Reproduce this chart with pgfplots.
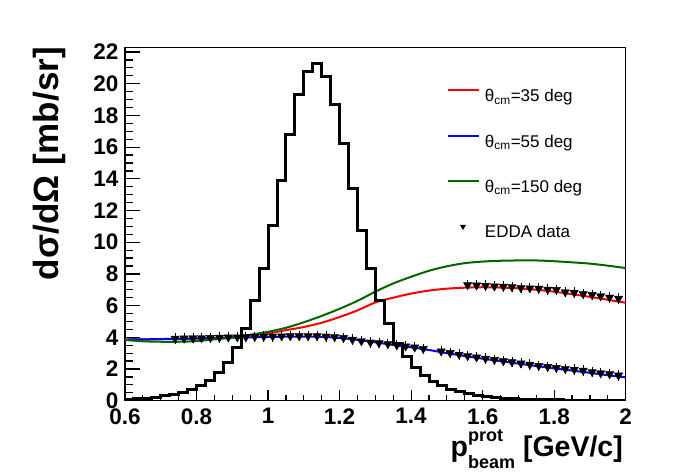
\documentclass[border=0pt]{standalone}
\usepackage{fontspec}
\setmainfont{Liberation Sans}
\usepackage{pgfplots}
\usepackage{pgfplotstable}
\pgfplotsset{compat=1.18}
\definecolor{rootgreen}{rgb}{0,0.4,0}

% histogram: bin lower edge, content (last row closes the last bin)
\pgfplotstableread{
x y
0.600 0.10
0.625 0.13
0.650 0.16
0.675 0.22
0.700 0.30
0.725 0.39
0.750 0.50
0.775 0.71
0.800 0.97
0.825 1.30
0.850 1.77
0.875 2.40
0.900 3.37
0.925 4.57
0.950 6.30
0.975 8.33
1.000 11.03
1.025 13.92
1.050 16.80
1.075 19.30
1.100 20.80
1.125 21.25
1.150 20.46
1.175 18.70
1.200 16.20
1.225 13.40
1.250 10.76
1.275 8.33
1.300 6.33
1.325 4.85
1.350 3.62
1.375 2.80
1.400 2.10
1.425 1.56
1.450 1.24
1.475 0.97
1.500 0.71
1.525 0.56
1.550 0.45
1.575 0.34
1.600 0.28
1.625 0.21
1.650 0.16
1.675 0.13
1.700 0.10
1.725 0.08
1.750 0.07
1.775 0.06
1.800 0.05
1.825 0.04
1.850 0.04
1.875 0.03
1.900 0.03
1.925 0.02
1.950 0.02
1.975 0.02
2.000 0.02
}\histtab

\pgfplotstableread{
x red blue green
0.60 3.86 3.86 3.83
0.65 3.87 3.87 3.75
0.70 3.88 3.89 3.72
0.75 3.90 3.91 3.72
0.80 3.92 3.93 3.76
0.85 3.95 3.95 3.87
0.90 4.01 3.98 3.98
0.95 4.12 4.00 4.16
1.00 4.25 4.02 4.35
1.05 4.45 4.04 4.60
1.10 4.65 4.05 4.95
1.15 4.92 4.03 5.35
1.20 5.28 3.96 5.80
1.25 5.70 3.84 6.30
1.30 6.20 3.68 6.88
1.35 6.50 3.52 7.40
1.40 6.76 3.37 7.82
1.45 6.95 3.20 8.20
1.50 7.07 3.00 8.48
1.55 7.13 2.82 8.68
1.60 7.16 2.65 8.78
1.65 7.14 2.50 8.83
1.70 7.09 2.34 8.85
1.75 7.00 2.19 8.85
1.80 6.88 2.04 8.80
1.85 6.72 1.90 8.73
1.90 6.55 1.76 8.65
1.95 6.37 1.61 8.52
2.00 6.18 1.47 8.37
}\curves

\pgfplotstableread{
x y
0.740 3.93
0.765 3.94
0.790 3.95
0.814 3.96
0.839 3.97
0.864 3.99
0.889 4.00
0.914 4.01
0.938 4.02
0.963 4.04
0.988 4.05
1.013 4.06
1.038 4.07
1.062 4.08
1.087 4.08
1.112 4.08
1.137 4.08
1.162 4.06
1.186 4.02
1.211 3.97
1.236 3.86
1.261 3.76
1.286 3.68
1.310 3.64
1.335 3.58
1.360 3.51
1.385 3.44
1.410 3.37
1.434 3.28
1.484 3.12
1.509 3.02
1.534 2.92
1.558 2.82
1.583 2.74
1.608 2.66
1.633 2.58
1.658 2.50
1.682 2.44
1.707 2.36
1.732 2.28
1.757 2.20
1.782 2.14
1.806 2.08
1.831 2.02
1.856 1.96
1.881 1.90
1.906 1.82
1.930 1.74
1.955 1.68
1.980 1.60
}\eddalow

\pgfplotstableread{
x y
1.558 7.30
1.583 7.28
1.608 7.26
1.633 7.22
1.658 7.20
1.682 7.17
1.707 7.12
1.732 7.10
1.757 7.08
1.782 7.02
1.806 7.00
1.831 6.85
1.856 6.82
1.881 6.74
1.906 6.68
1.930 6.60
1.955 6.52
1.980 6.45
}\eddahigh

\begin{document}
\begin{tikzpicture}
\useasboundingbox (0,0) rectangle (696bp,472bp);
\begin{axis}[
  at={(125bp,71.3bp)}, anchor=south west,
  scale only axis, width=500.7bp, height=353.4bp,
  xmin=0.6, xmax=2, ymin=0, ymax=22.3,
  axis line style={line width=1.2bp},
  xtick={0.6,0.8,1,1.2,1.4,1.6,1.8,2},
  ytick={0,2,4,6,8,10,12,14,16,18,20,22},
  minor x tick num=3, minor y tick num=3,
  tick align=inside, xtick pos=bottom, ytick pos=left,
  major tick length=15bp, minor tick length=8bp,
  xtick style={/pgfplots/major tick length=10.5bp,/pgfplots/minor tick length=5.5bp},
  tick style={line width=1.2bp, black},
  tick label style={font=\fontsize{22.5bp}{24bp}\selectfont\bfseries},
  /pgf/number format/assume math mode=true,
  xticklabel style={anchor=north, inner sep=0pt, yshift=-7.5bp},
  yticklabel style={anchor=east, inner sep=0pt, xshift=-6.5bp},
  legend style={draw=none, fill=none, at={(0.643,0.8814)}, anchor=north west,
    inner sep=0pt, outer sep=0pt, row sep=32.8bp, column sep=5bp,
    font=\fontsize{17bp}{19bp}\selectfont,
    nodes={inner sep=0pt, text height=12bp, text depth=0bp}},
  legend cell align=left,
  legend image code/.code={\path[draw=none, fill=none] (0bp,-6bp) rectangle (31bp,6.5bp); \draw[#1] (0bp,5.5bp) -- (31bp,5.5bp);},
]
\addplot[red, line width=2bp, smooth] table[x=x, y=red] {\curves};
\addlegendentry{θ\textsubscript{cm}=35 deg}
\addplot[blue, line width=2bp, smooth] table[x=x, y=blue] {\curves};
\addlegendentry{θ\textsubscript{cm}=55 deg}
\addplot[rootgreen, line width=2bp, smooth] table[x=x, y=green] {\curves};
\addlegendentry{θ\textsubscript{cm}=150 deg}
\addplot[black, only marks, mark=triangle*, mark size=4.8bp,
  mark options={rotate=180, fill=black},
  error bars/.cd, y dir=both, y fixed=0.2,
  error bar style={line width=0.8bp, black},
  error mark options={mark size=2bp, line width=0.8bp, black},
  /pgfplots/.cd,
  legend image code/.code={\path[draw=none, fill=none] (0bp,-6bp) rectangle (31bp,6.5bp);
    \draw[black, only marks, mark=triangle*, mark size=3bp, mark options={rotate=180, fill=black}] plot coordinates {(15bp,5bp)};}
  ] table {\eddalow};
\addlegendentry{EDDA data}
\addplot[black, only marks, mark=triangle*, mark size=4.8bp,
  mark options={rotate=180, fill=black}, forget plot,
  error bars/.cd, y dir=both, y fixed=0.2,
  error bar style={line width=0.8bp, black},
  error mark options={mark size=2bp, line width=0.8bp, black}
  ] table {\eddahigh};
\addplot[black, line width=3bp, const plot, forget plot] table {\histtab};
\end{axis}
\node[rotate=90, anchor=base east, inner sep=0pt] at (58bp,425bp)
  {\fontsize{35bp}{37bp}\selectfont\bfseries dσ/dΩ [mb/sr]};
\node[anchor=base east, inner sep=0pt] at (623bp,15.3bp)
  {\fontsize{28.5bp}{30bp}\selectfont\bfseries p\rlap{\raisebox{15.5bp}{\fontsize{18bp}{19bp}\selectfont prot}}\raisebox{-12bp}{\fontsize{18bp}{19bp}\selectfont beam} [GeV/c]};
\end{tikzpicture}
\end{document}
